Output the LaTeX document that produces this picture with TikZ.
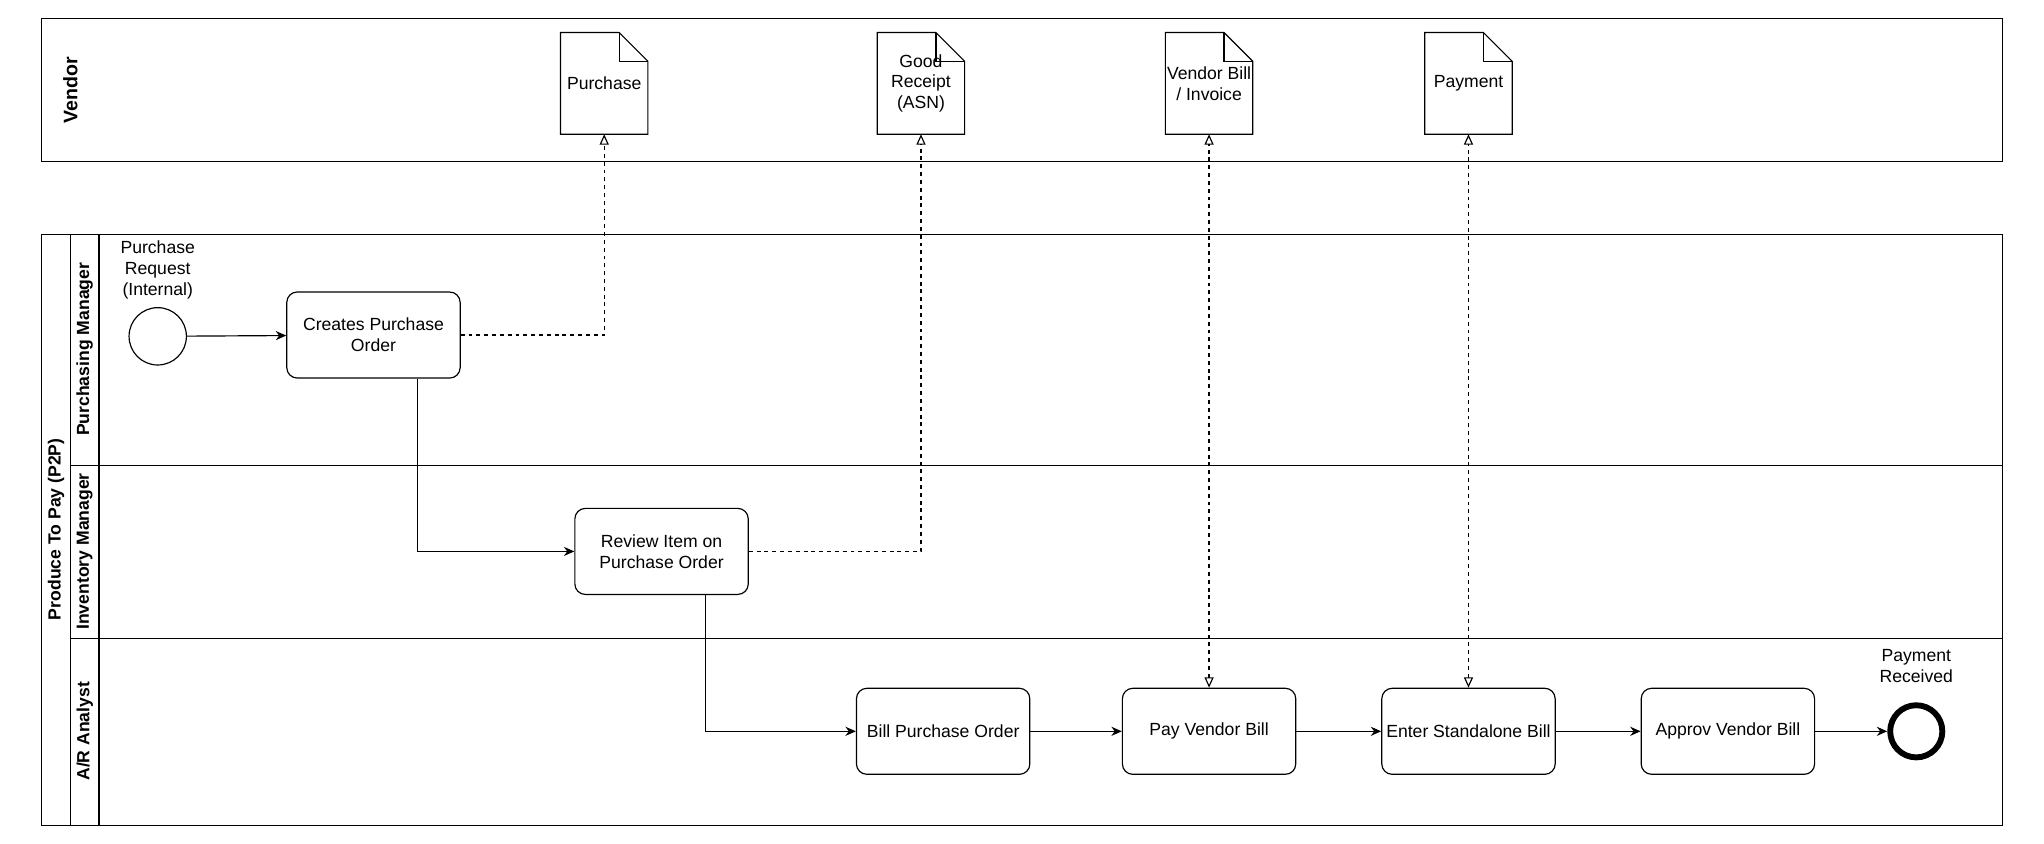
\documentclass[tikz,border=0pt]{standalone}
\usepackage{fontspec}
\setmainfont{Liberation Sans}
\usetikzlibrary{arrows.meta,positioning}

\tikzset{
  task/.style={draw,rounded corners=8pt,minimum width=133pt,minimum height=66pt,align=center,line width=0.9pt},
  flow/.style={-{Stealth[length=8pt,width=7pt]},line width=0.9pt},
  assoc/.style={dashed,line width=0.9pt,-{Triangle[open,length=8pt,width=7pt]}},
  lbl/.style={align=center,font=\fontsize{13.5}{16}\selectfont},
}

\begin{document}
\begin{tikzpicture}[x=1pt,y=-1pt,every node/.style={font=\fontsize{13.5}{16}\selectfont}]
\useasboundingbox (0,0) rectangle (1568,647);

% pools and lanes
\draw[line width=0.9pt] (32,14) rectangle (1536,124);
\node[rotate=90,font=\bfseries\fontsize{15}{18}\selectfont] at (54,69) {Vendor};
\draw[line width=0.9pt] (32,180) rectangle (1536,633);
\draw[line width=0.9pt] (54,180) -- (54,633) (76,180) -- (76,633);
\draw[line width=0.9pt] (54,357) -- (1536,357) (54,490) -- (1536,490);
\node[rotate=90,font=\bfseries\fontsize{13.5}{16}\selectfont] at (43,406) {Produce To Pay (P2P)};
\node[rotate=90,font=\bfseries\fontsize{13.5}{16}\selectfont] at (65,268) {Purchasing Manager};
\node[rotate=90,font=\bfseries\fontsize{13.5}{16}\selectfont] at (65,423) {Inventory Manager};
\node[rotate=90,font=\bfseries\fontsize{13.5}{16}\selectfont] at (65,561) {A/R Analyst};

% documents
\foreach \Name/\X/\Text in {purch/430/{Purchase}, receipt/673/{Good\\Receipt\\(ASN)}, bill/894/{Vendor Bill\\{/} Invoice}, pay/1093/{Payment}}{
  \draw[line width=0.9pt] (\X,25) -- (\X+45,25) -- (\X+67,47) -- (\X+67,103) -- (\X,103) -- cycle;
  \draw[line width=0.9pt] (\X+45,25) -- (\X+45,47) -- (\X+67,47);
  \node[lbl,inner sep=0] at (\X+33.5,64) {\Text};
  \coordinate (\Name) at (\X+33.5,103);
}

% events
\node[draw,circle,minimum size=44pt,line width=0.9pt] (start) at (121,258) {};
\node[lbl] at (121,207) {Purchase\\Request\\(Internal)};
\node[draw,circle,minimum size=40pt,line width=4.5pt] (end) at (1470,561) {};
\node[lbl] at (1470,511) {Payment\\Received};

% tasks
\node[task] (create) at (286.5,257) {Creates Purchase\\Order};
\node[task] (review) at (507.5,423) {Review Item on\\Purchase Order};
\node[task] (billpo) at (723.5,561) {Bill Purchase Order};
\node[task] (payvb) at (927.5,561) {Pay Vendor Bill};
\node[task] (enter) at (1126.5,561) {Enter Standalone Bill};
\node[task] (approv) at (1325.5,561) {Approv Vendor Bill};

% sequence flows
\draw[flow] (start) -- (create);
\draw[flow] (create.south -| 320,0) |- (review);
\draw[flow] (review.south -| 541,0) |- (billpo);
\draw[flow] (billpo) -- (payvb);
\draw[flow] (payvb) -- (enter);
\draw[flow] (enter) -- (approv);
\draw[flow] (approv) -- (end);

% associations
\draw[assoc] (create.east) -| (purch);
\draw[assoc] (review.east) -| (receipt);
\draw[assoc,{Triangle[open,length=8pt,width=7pt]}-{Triangle[open,length=8pt,width=7pt]}] (payvb.north) -- (bill);
\draw[assoc,{Triangle[open,length=8pt,width=7pt]}-{Triangle[open,length=8pt,width=7pt]}] (enter.north) -- (pay);

\end{tikzpicture}
\end{document}
